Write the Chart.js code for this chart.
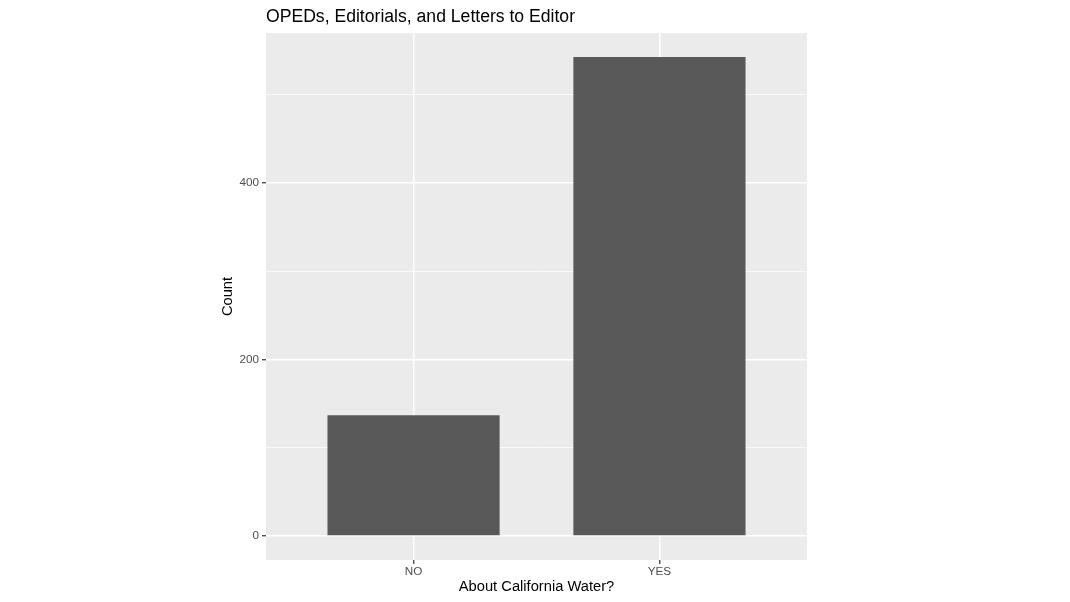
<!DOCTYPE html>
<html>
<head>
<meta charset="utf-8">
<script src="https://cdn.jsdelivr.net/npm/chart.js@4"></script>
<style>
html,body{margin:0;padding:0;background:#fff;}
canvas{display:block;}
</style>
</head>
<body>
<canvas id="c" width="1070" height="602"></canvas>
<script>
const categories = ['NO', 'YES'];
const counts = [137, 543];
const yMajorTicks = [0, 200, 400];
const yMinorTicks = [100, 300, 500];
const titleText = 'OPEDs, Editorials, and Letters to Editor';
const xTitle = 'About California Water?';
const yTitle = 'Count';

const FONT = "'Liberation Sans', Arial, Helvetica, sans-serif";
const maxVal = Math.max(...counts);
const yMin = -0.05 * maxVal;
const yMax = maxVal * 1.05;

const panelBg = {
  id: 'panelBg',
  beforeDraw(chart) {
    const {ctx, chartArea: a} = chart;
    ctx.save();
    ctx.fillStyle = '#EBEBEB';
    ctx.fillRect(a.left, a.top, a.right - a.left, a.bottom - a.top);
    ctx.restore();
  }
};

new Chart(document.getElementById('c'), {
  type: 'bar',
  data: {
    datasets: [{
      data: categories.map((c, i) => ({x: i + 1, y: counts[i]})),
      backgroundColor: '#595959',
      borderWidth: 0,
      barPercentage: 0.7,
      categoryPercentage: 1.0
    }]
  },
  options: {
    responsive: false,
    animation: false,
    devicePixelRatio: 1,
    layout: {padding: {left: 215, right: 263, top: 0, bottom: 0}},
    plugins: {
      legend: {display: false},
      tooltip: {enabled: false},
      title: {
        display: true,
        text: titleText,
        align: 'start',
        fullSize: false,
        color: '#000',
        font: {family: FONT, size: 17.6, weight: 'normal'},
        padding: {top: 6.2, bottom: 5.7}
      }
    },
    scales: {
      x: {
        type: 'linear',
        offset: false,
        min: 0.4,
        max: categories.length + 0.6,
        afterBuildTicks: (s) => { s.ticks = categories.map((c, i) => ({value: i + 1})); },
        afterFit: (s) => { s.height = 42; },
        ticks: {
          callback: (v) => categories[Math.round(v) - 1] || '',
          color: '#4D4D4D',
          font: {family: FONT, size: 11.7},
          padding: 1,
          maxRotation: 0,
          autoSkip: false
        },
        grid: {
          offset: false,
          color: '#FFFFFF',
          lineWidth: 1.5,
          tickColor: '#333333',
          tickLength: 4,
          tickWidth: 1.2
        },
        border: {display: false},
        title: {
          display: true,
          text: xTitle,
          color: '#000',
          font: {family: FONT, size: 14.7},
          padding: {top: 0, bottom: 6.2}
        }
      },
      y: {
        type: 'linear',
        min: yMin,
        max: yMax,
        afterBuildTicks: (s) => {
          s.ticks = [...yMajorTicks, ...yMinorTicks].sort((a, b) => a - b).map(v => ({value: v}));
        },
        afterFit: (s) => { s.width = 51; },
        ticks: {
          callback: (v) => yMajorTicks.includes(v) ? String(v) : '',
          color: '#4D4D4D',
          font: {family: FONT, size: 11.7},
          padding: 3,
          autoSkip: false
        },
        grid: {
          color: '#FFFFFF',
          lineWidth: (ctx) => yMajorTicks.includes(ctx.tick && ctx.tick.value) ? 1.5 : 0.75,
          tickColor: (ctx) => yMajorTicks.includes(ctx.tick && ctx.tick.value) ? '#333333' : 'rgba(0,0,0,0)',
          tickLength: 4,
          tickWidth: 1.2
        },
        border: {display: false},
        title: {
          display: true,
          text: yTitle,
          color: '#000',
          font: {family: FONT, size: 14.7},
          padding: {top: 4, bottom: 0}
        }
      }
    }
  },
  plugins: [panelBg]
});
</script>
</body>
</html>
